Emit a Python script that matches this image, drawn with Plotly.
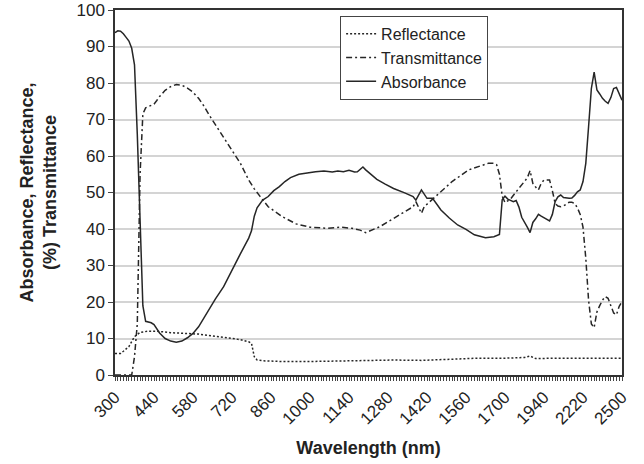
import plotly.graph_objects as go

# Category axis (spectrometer steps: 10 nm to 1740 nm, 20 nm beyond)
categories = [str(w) for w in list(range(300, 1741, 10)) + list(range(1760, 2501, 20))]
tick_labels = ["300", "440", "580", "720", "860", "1000", "1140", "1280",
               "1420", "1560", "1700", "1940", "2220", "2500"]

abs_wl = [300, 310, 320, 330, 340, 350, 360, 370, 380, 390, 400, 410, 420, 430, 440, 450, 460, 480,
          500, 520, 540, 560, 580, 600, 620, 640, 660, 690, 720, 750, 780, 790, 800, 810, 830, 850,
          870, 890, 910, 930, 960, 990, 1020, 1050, 1080, 1100, 1120, 1140, 1160, 1170, 1190, 1200,
          1240, 1270, 1300, 1340, 1370, 1380, 1400, 1420, 1440, 1470, 1500, 1530, 1560, 1590, 1610,
          1630, 1660, 1680, 1690, 1700, 1710, 1720, 1730, 1740, 1760, 1780, 1800, 1820, 1840, 1860,
          1880, 1900, 1920, 1940, 1960, 1980, 2000, 2020, 2040, 2060, 2080, 2100, 2120, 2140, 2160,
          2180, 2200, 2220, 2240, 2260, 2280, 2300, 2320, 2340, 2360, 2380, 2400, 2420, 2440, 2460,
          2480, 2500]
absorbance = [93.8, 94.3, 94.2, 93.5, 92.5, 91.5, 89.5, 85.0, 66.0, 39.0, 19.0, 14.7, 14.5, 14.3, 13.8,
              12.6, 11.5, 10.0, 9.3, 9.0, 9.3, 10.2, 11.4, 13.2, 15.8, 18.2, 20.8, 24.2, 28.8, 33.2,
              37.5, 39.5, 43.5, 45.8, 47.9, 48.9, 50.5, 51.6, 53.0, 54.1, 55.0, 55.4, 55.7, 55.9, 55.6,
              55.9, 55.7, 56.1, 55.6, 55.7, 57.0, 56.2, 53.6, 52.3, 51.1, 49.9, 48.9, 47.9, 50.7, 48.4,
              48.4, 45.2, 43.0, 41.1, 39.9, 38.4, 38.0, 37.6, 37.9, 38.5, 48.0, 49.0, 48.2, 47.8, 47.5,
              47.8, 46.0, 43.2, 42.0, 40.5, 39.0, 41.8, 42.8, 44.0, 43.5, 43.0, 42.5, 42.2, 44.0, 47.5,
              48.8, 49.3, 48.6, 48.4, 48.4, 48.5, 49.2, 50.2, 50.7, 53.0, 58.0, 68.0, 78.5, 83.0, 78.1,
              77.0, 75.8, 75.0, 74.4, 76.0, 78.5, 78.8, 77.0, 75.3]

tr_wl = [300, 360, 370, 380, 390, 400, 410, 420, 430, 440, 450, 460, 480, 500, 520, 540, 560, 580, 600,
         620, 640, 660, 690, 720, 750, 780, 800, 820, 850, 900, 950, 1000, 1060, 1110, 1150, 1180, 1200,
         1250, 1310, 1370, 1380, 1390, 1400, 1410, 1450, 1510, 1570, 1620, 1640, 1660, 1670, 1680, 1690,
         1700, 1710, 1720, 1740, 1760, 1780, 1800, 1820, 1840, 1860, 1880, 1900, 1920, 1940, 1960, 1980,
         2000, 2020, 2040, 2060, 2080, 2100, 2120, 2140, 2160, 2180, 2200, 2220, 2240, 2260, 2280, 2300,
         2320, 2340, 2360, 2380, 2400, 2420, 2440, 2460, 2480, 2500]
transmittance = [0.0, 0.0, 5.0, 14.0, 55.0, 71.5, 73.2, 73.6, 73.8, 74.2, 75.2, 76.3, 78.0, 79.0, 79.6,
                 79.4, 78.6, 77.5, 75.8, 73.6, 71.0, 68.6, 65.3, 61.6, 58.0, 53.4, 51.0, 49.0, 46.1, 43.4,
                 41.4, 40.5, 40.2, 40.5, 40.2, 39.7, 39.0, 40.6, 43.4, 46.1, 47.5, 45.7, 44.3, 46.1, 48.9,
                 53.0, 56.2, 57.6, 58.0, 58.0, 57.6, 55.0, 49.0, 47.2, 47.8, 48.2, 50.2, 51.2, 52.2, 53.2,
                 54.0, 56.0, 52.5, 51.5, 50.7, 52.5, 53.4, 53.4, 53.4, 50.5, 47.0, 46.3, 46.1, 46.3, 46.8,
                 47.3, 47.3, 47.0, 45.8, 44.0, 40.5, 32.0, 20.5, 14.0, 13.0, 17.3, 19.0, 20.5, 21.5, 21.0,
                 19.0, 17.0, 16.5, 18.8, 20.1]

ref_wl = [300, 320, 330, 350, 370, 390, 420, 450, 500, 550, 600, 660, 700, 750, 780, 790, 800, 810, 830,
          900, 1000, 1100, 1200, 1300, 1400, 1500, 1600, 1700, 1800, 1840, 1880, 2000, 2500]
reflectance = [5.9, 5.9, 6.5, 7.8, 10.5, 11.7, 12.0, 12.0, 11.6, 11.4, 11.2, 10.6, 10.2, 9.7, 9.1, 8.7,
               5.0, 4.1, 3.9, 3.7, 3.7, 3.9, 4.0, 4.1, 4.0, 4.3, 4.6, 4.6, 4.8, 5.2, 4.5, 4.6, 4.6]

FONT = "Liberation Sans, Arial, sans-serif"
LINE = "#262626"

fig = go.Figure()
fig.add_trace(go.Scatter(x=[str(w) for w in ref_wl], y=reflectance, mode="lines", name="Reflectance",
                         line=dict(color=LINE, width=1.5, dash="2px,2px")))
fig.add_trace(go.Scatter(x=[str(w) for w in tr_wl], y=transmittance, mode="lines", name="Transmittance",
                         line=dict(color=LINE, width=1.5, dash="6px,3px,2px,3px")))
fig.add_trace(go.Scatter(x=[str(w) for w in abs_wl], y=absorbance, mode="lines", name="Absorbance",
                         line=dict(color=LINE, width=1.5)))

# label only the listed tick categories; every category gets a tick mark
ticktext = [c if c in tick_labels else "" for c in categories]

fig.update_layout(
    width=644, height=464,
    margin=dict(l=115, r=22, t=10, b=89),
    paper_bgcolor="white", plot_bgcolor="white",
    font=dict(family=FONT, size=17, color="#222"),
    legend=dict(x=0.444, y=0.984, xanchor="left", yanchor="top",
                bgcolor="white", bordercolor="#444", borderwidth=1,
                font=dict(size=16), tracegroupgap=0, itemwidth=30),
    showlegend=True,
)
fig.update_xaxes(
    type="category", categoryorder="array", categoryarray=categories,
    range=[0, len(categories) - 1], automargin=False,
    tickmode="array", tickvals=categories, ticktext=ticktext,
    tickangle=-45, ticks="outside", ticklen=4, tickwidth=1, tickcolor="#444",
    showline=True, linecolor="#333", linewidth=1.5, mirror=True,
    showgrid=False, zeroline=False,
    tickfont=dict(size=17),
    title=dict(text="<b>Wavelength (nm)</b>", font=dict(size=18), standoff=14),
)
fig.update_yaxes(
    range=[0, 100], dtick=10, tick0=0, automargin=False,
    ticks="outside", ticklen=5, tickwidth=1, tickcolor="#444",
    showline=True, linecolor="#333", linewidth=1.5, mirror=True,
    showgrid=True, gridcolor="#d4d4d4", gridwidth=1.5, zeroline=False,
    tickfont=dict(size=17),
    title=dict(text="<b>Absorbance, Reflectance,<br>(%) Transmittance</b>", font=dict(size=18), standoff=15),
)

fig.write_html("out.html")
